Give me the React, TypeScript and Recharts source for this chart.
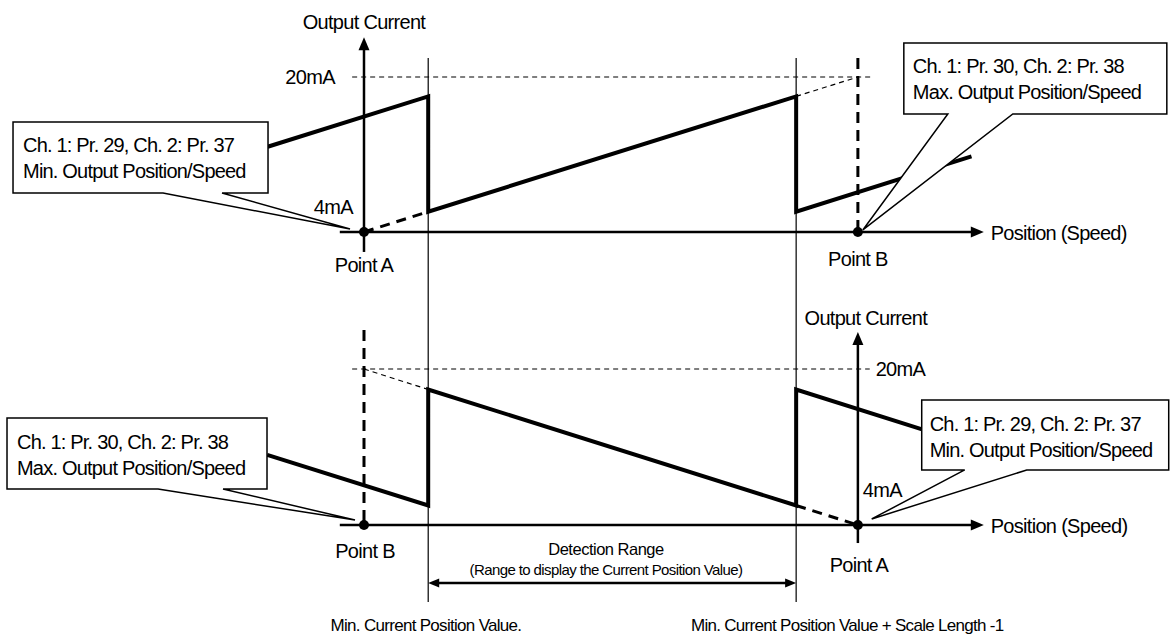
import React from 'react';
import { ComposedChart, Line, Scatter, XAxis, YAxis } from 'recharts';

const W = 1172;
const H = 634;
const FONT = '"Liberation Sans", Arial, Helvetica, sans-serif';

// Position units: top Point A = 0, top Point B = 100 (bottom: Point B = 0, Point A = 100)
// Current units: mA
const X_DOMAIN: [number, number] = [-73.7, 163.6];
const TOP_DOMAIN: [number, number] = [-37.5, 27.95];
const BOTTOM_DOMAIN: [number, number] = [-7.18, 57.85];

// ---- series (position, mA) ----
const topWave = [
  { x: -19.5, y: 12.8 },
  { x: 13, y: 18.0 },
  { x: 13, y: 6.1 },
  { x: 87.5, y: 18.0 },
  { x: 87.5, y: 6.1 },
  { x: 123, y: 11.8 },
];
const bottomWave = [
  { x: -19.6, y: 11.2 },
  { x: 13, y: 6.0 },
  { x: 13, y: 17.9 },
  { x: 87.5, y: 6.0 },
  { x: 87.5, y: 17.9 },
  { x: 113, y: 13.8 },
];
const topExtThick = [{ x: 0, y: 4 }, { x: 13, y: 6.1 }];
const topExtThin = [{ x: 87.5, y: 18.0 }, { x: 100, y: 20 }];
const bottomExtThin = [{ x: 0, y: 20 }, { x: 13, y: 17.9 }];
const bottomExtThick = [{ x: 87.5, y: 6.0 }, { x: 100, y: 4 }];
const topLevel20 = [{ x: -2.4, y: 20 }, { x: 102.6, y: 20 }];
const bottomLevel20 = [{ x: -2.4, y: 20 }, { x: 102.4, y: 20 }];

// axes (drawn as series)
const topXAxisLine = [{ x: -4.9, y: 4 }, { x: 124, y: 4 }];
const topYAxisLine = [{ x: 0, y: 1.94 }, { x: 0, y: 23.4 }];
const bottomXAxisLine = [{ x: -4.9, y: 4 }, { x: 124, y: 4 }];
const bottomYAxisLine = [{ x: 100, y: 2.15 }, { x: 100, y: 23.1 }];
const topArrowRight = [{ x: 125.5, y: 4 }];
const topArrowUp = [{ x: 0, y: 24.1 }];
const bottomArrowRight = [{ x: 125.5, y: 4 }];
const bottomArrowUp = [{ x: 100, y: 23.8 }];

// detection range boundaries (top axis units, spanning both panels)
const rangeMinLine = [{ x: 13, y: 21.96 }, { x: 13, y: -34.2 }];
const rangeMaxLine = [{ x: 87.5, y: 21.96 }, { x: 87.5, y: -34.2 }];
const topPointBLine = [{ x: 100, y: 21.96 }, { x: 100, y: 4 }];
const bottomPointBLine = [{ x: 0, y: 24.0 }, { x: 0, y: 4 }];
const detectionArrowLine = [{ x: 14.5, y: -1.95 }, { x: 86, y: -1.95 }];
const detectionArrowLeft = [{ x: 13, y: -1.95 }];
const detectionArrowRight = [{ x: 87.5, y: -1.95 }];

const topPoints = [{ x: 0, y: 4 }, { x: 100, y: 4 }];
const bottomPoints = [{ x: 0, y: 4 }, { x: 100, y: 4 }];

// ---- labels ----
const topLabelsMiddle = [
  { x: 0, y: 24.95, text: 'Output Current' },
  { x: 0, y: -0.13, text: 'Point A' },
  { x: 100, y: 0.49, text: 'Point B' },
];
const topLabelsEnd = [
  { x: -5.87, y: 19.28, text: '20mA' },
  { x: -2.23, y: 5.86, text: '4mA' },
];
const topLabelsStart = [{ x: 126.9, y: 3.17, text: 'Position (Speed)' }];

const bottomLabelsMiddle = [
  { x: 101.6, y: 24.51, text: 'Output Current' },
  { x: 100.2, y: -0.82, text: 'Point A' },
  { x: 0.2, y: 0.62, text: 'Point B' },
];
const bottomLabelsStart = [
  { x: 103.6, y: 19.28, text: '20mA' },
  { x: 101, y: 6.87, text: '4mA' },
  { x: 126.9, y: 3.18, text: 'Position (Speed)' },
];
const rangeTitle = [{ x: 49, y: 0.92, text: 'Detection Range' }];
const rangeSubtitle = [{ x: 49, y: -1.13, text: '(Range to display the Current Position Value)' }];
const footMin = [{ x: 12.55, y: -6.87, text: 'Min. Current Position Value.' }];
const footMax = [{ x: 66.2, y: -6.87, text: 'Min. Current Position Value + Scale Length -1' }];

// ---- callouts (pointer tip position + text) ----
const calloutTopMin = [{ x: -2.83, y: 4.31, lines: ['Ch. 1: Pr. 29, Ch. 2: Pr. 37', 'Min. Output Position/Speed'] }];
const calloutTopMax = [{ x: 101.0, y: 4.21, lines: ['Ch. 1: Pr. 30, Ch. 2: Pr. 38', 'Max. Output Position/Speed'] }];
const calloutBottomMax = [{ x: -1.82, y: 4.51, lines: ['Ch. 1: Pr. 30, Ch. 2: Pr. 38', 'Max. Output Position/Speed'] }];
const calloutBottomMin = [{ x: 102.8, y: 4.62, lines: ['Ch. 1: Pr. 29, Ch. 2: Pr. 37', 'Min. Output Position/Speed'] }];

// ---- styles ----
const calloutGeom = {
  topMin: { dx: -337, dy: -107, w: 255, h: 71, b1: -187, b2: -128, tx: 10, t1: 30, t2: 56 },
  topMax: { dx: 41, dy: -187, w: 263, h: 71, b1: 85, b2: 150, tx: 9, t1: 30, t2: 56 },
  bottomMax: { dx: -348, dy: -102, w: 260, h: 71, b1: -197, b2: -132, tx: 10, t1: 31, t2: 57 },
  bottomMin: { dx: 50, dy: -119, w: 247, h: 70, b1: 93, b2: 155, tx: 8, t1: 31, t2: 57 },
};

const textShape = (anchor: string, size: number, spacing: number) => (p: any) => (
  <text
    x={p.cx}
    y={p.cy}
    textAnchor={anchor}
    fontSize={size}
    fontFamily={FONT}
    letterSpacing={spacing}
    fill="#000"
  >
    {p.payload.text}
  </text>
);

const arrowShape = (dir: string, len: number, half: number) => (p: any) => {
  const { cx, cy } = p;
  let pts = '';
  if (dir === 'right') pts = `${cx},${cy} ${cx - len},${cy - half} ${cx - len},${cy + half}`;
  if (dir === 'left') pts = `${cx},${cy} ${cx + len},${cy - half} ${cx + len},${cy + half}`;
  if (dir === 'up') pts = `${cx},${cy} ${cx - half},${cy + len} ${cx + half},${cy + len}`;
  return <polygon points={pts} fill="#000" />;
};

const dotShape = (p: any) => <circle cx={p.cx} cy={p.cy} r={5} fill="#000" />;

const calloutShape = (g: any) => (p: any) => {
  const { cx, cy } = p;
  const L = cx + g.dx;
  const T = cy + g.dy;
  const R = L + g.w;
  const B = T + g.h;
  const d = `M${L},${T} H${R} V${B} H${cx + g.b2} L${cx},${cy} L${cx + g.b1},${B} H${L} Z`;
  const lines: string[] = p.payload.lines;
  return (
    <g>
      <path d={d} fill="#fff" stroke="#000" strokeWidth={1.5} />
      <text x={L + g.tx} y={T + g.t1} fontSize={20} fontFamily={FONT} letterSpacing={-0.8} fill="#000">
        {lines[0]}
      </text>
      <text x={L + g.tx} y={T + g.t2} fontSize={20} fontFamily={FONT} letterSpacing={-0.8} fill="#000">
        {lines[1]}
      </text>
    </g>
  );
};

const lineProps = {
  dataKey: 'y',
  dot: false,
  activeDot: false,
  isAnimationActive: false,
  type: 'linear' as const,
  stroke: '#000',
  legendType: 'none' as const,
};

export default function App() {
  return (
    <div style={{ position: 'absolute', left: 0, top: 0, width: W, height: H, background: '#fff' }}>
      <ComposedChart width={W} height={H} margin={{ top: 0, right: 0, bottom: 0, left: 0 }}>
        <XAxis type="number" dataKey="x" domain={X_DOMAIN} allowDataOverflow hide />
        <YAxis yAxisId="top" type="number" dataKey="y" domain={TOP_DOMAIN} allowDataOverflow hide />
        <YAxis yAxisId="bottom" type="number" dataKey="y" domain={BOTTOM_DOMAIN} allowDataOverflow hide />

        {/* thin guide lines */}
        <Line {...lineProps} yAxisId="top" data={rangeMinLine} strokeWidth={1.2} />
        <Line {...lineProps} yAxisId="top" data={rangeMaxLine} strokeWidth={1.2} />
        <Line {...lineProps} yAxisId="top" data={topLevel20} strokeWidth={1.2} strokeDasharray="5 4" />
        <Line {...lineProps} yAxisId="bottom" data={bottomLevel20} strokeWidth={1.2} strokeDasharray="5 4" />
        <Line {...lineProps} yAxisId="top" data={topExtThin} strokeWidth={1.2} strokeDasharray="5 4" />
        <Line {...lineProps} yAxisId="bottom" data={bottomExtThin} strokeWidth={1.2} strokeDasharray="5 4" />

        {/* thick dashed */}
        <Line {...lineProps} yAxisId="top" data={topPointBLine} strokeWidth={3} strokeDasharray="11 7" />
        <Line {...lineProps} yAxisId="bottom" data={bottomPointBLine} strokeWidth={3} strokeDasharray="11 7" />
        <Line {...lineProps} yAxisId="top" data={topExtThick} strokeWidth={3} strokeDasharray="10 7" />
        <Line {...lineProps} yAxisId="bottom" data={bottomExtThick} strokeWidth={3} strokeDasharray="10 7" />

        {/* axes */}
        <Line {...lineProps} yAxisId="top" data={topXAxisLine} strokeWidth={2.5} />
        <Line {...lineProps} yAxisId="top" data={topYAxisLine} strokeWidth={2.5} />
        <Line {...lineProps} yAxisId="bottom" data={bottomXAxisLine} strokeWidth={2.5} />
        <Line {...lineProps} yAxisId="bottom" data={bottomYAxisLine} strokeWidth={2.5} />
        <Line {...lineProps} yAxisId="bottom" data={detectionArrowLine} strokeWidth={2.5} />

        {/* output waves */}
        <Line {...lineProps} yAxisId="top" data={topWave} strokeWidth={4} strokeLinejoin="miter" />
        <Line {...lineProps} yAxisId="bottom" data={bottomWave} strokeWidth={4} strokeLinejoin="miter" />

        {/* callouts */}
        <Scatter yAxisId="top" dataKey="y" data={calloutTopMin} shape={calloutShape(calloutGeom.topMin)} isAnimationActive={false} />
        <Scatter yAxisId="top" dataKey="y" data={calloutTopMax} shape={calloutShape(calloutGeom.topMax)} isAnimationActive={false} />
        <Scatter yAxisId="bottom" dataKey="y" data={calloutBottomMax} shape={calloutShape(calloutGeom.bottomMax)} isAnimationActive={false} />
        <Scatter yAxisId="bottom" dataKey="y" data={calloutBottomMin} shape={calloutShape(calloutGeom.bottomMin)} isAnimationActive={false} />

        {/* arrowheads */}
        <Scatter yAxisId="top" dataKey="y" data={topArrowRight} shape={arrowShape('right', 13, 5.5)} isAnimationActive={false} />
        <Scatter yAxisId="top" dataKey="y" data={topArrowUp} shape={arrowShape('up', 13, 5.5)} isAnimationActive={false} />
        <Scatter yAxisId="bottom" dataKey="y" data={bottomArrowRight} shape={arrowShape('right', 13, 5.5)} isAnimationActive={false} />
        <Scatter yAxisId="bottom" dataKey="y" data={bottomArrowUp} shape={arrowShape('up', 13, 5.5)} isAnimationActive={false} />
        <Scatter yAxisId="bottom" dataKey="y" data={detectionArrowLeft} shape={arrowShape('left', 11, 4.5)} isAnimationActive={false} />
        <Scatter yAxisId="bottom" dataKey="y" data={detectionArrowRight} shape={arrowShape('right', 11, 4.5)} isAnimationActive={false} />

        {/* points */}
        <Scatter yAxisId="top" dataKey="y" data={topPoints} shape={dotShape} isAnimationActive={false} />
        <Scatter yAxisId="bottom" dataKey="y" data={bottomPoints} shape={dotShape} isAnimationActive={false} />

        {/* labels */}
        <Scatter yAxisId="top" dataKey="y" data={topLabelsMiddle} shape={textShape('middle', 20, -0.7)} isAnimationActive={false} />
        <Scatter yAxisId="top" dataKey="y" data={topLabelsEnd} shape={textShape('end', 20, -0.6)} isAnimationActive={false} />
        <Scatter yAxisId="top" dataKey="y" data={topLabelsStart} shape={textShape('start', 20, -0.75)} isAnimationActive={false} />
        <Scatter yAxisId="bottom" dataKey="y" data={bottomLabelsMiddle} shape={textShape('middle', 20, -0.7)} isAnimationActive={false} />
        <Scatter yAxisId="bottom" dataKey="y" data={bottomLabelsStart} shape={textShape('start', 20, -0.7)} isAnimationActive={false} />
        <Scatter yAxisId="bottom" dataKey="y" data={rangeTitle} shape={textShape('middle', 16.5, -0.5)} isAnimationActive={false} />
        <Scatter yAxisId="bottom" dataKey="y" data={rangeSubtitle} shape={textShape('middle', 15, -0.6)} isAnimationActive={false} />
        <Scatter yAxisId="bottom" dataKey="y" data={footMin} shape={textShape('middle', 17, -0.7)} isAnimationActive={false} />
        <Scatter yAxisId="bottom" dataKey="y" data={footMax} shape={textShape('start', 17, -0.7)} isAnimationActive={false} />
      </ComposedChart>
    </div>
  );
}
